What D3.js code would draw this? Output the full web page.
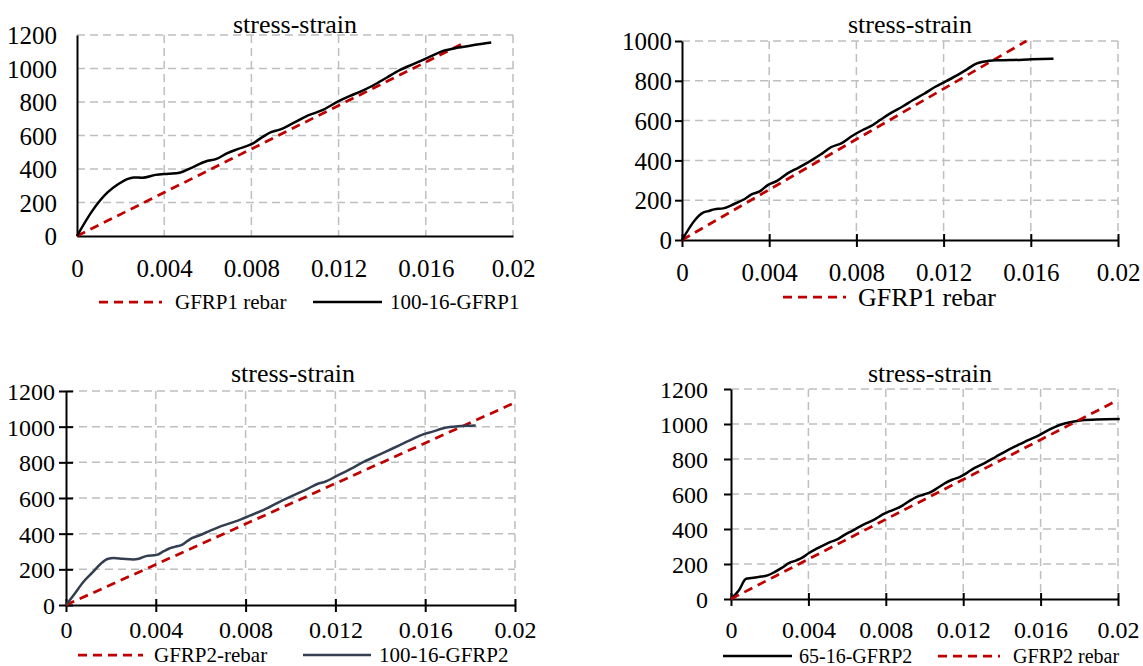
<!DOCTYPE html>
<html>
<head>
<meta charset="utf-8">
<script src="https://cdn.jsdelivr.net/npm/d3@7"></script>
<style>
  body { margin: 0; background: #fff; }
  svg text { font-family: "Liberation Serif", "Times New Roman", serif; fill: #000; }
</style>
</head>
<body>
<svg id="chart" width="1143" height="666"></svg>
<script>
// ---- data (strain, stress MPa) ----
const strainTicks = [0, 0.004, 0.008, 0.012, 0.016, 0.02];
const stressTicks1200 = [0, 200, 400, 600, 800, 1000, 1200];
const stressTicks1000 = [0, 200, 400, 600, 800, 1000];

const gfrp1Rebar = [[0, 0], [0.0089, 578], [0.0178, 1155]];
const gfrp1RebarB = [[0, 0], [0.0079, 500], [0.0158, 1000]];
const gfrp2Rebar = [[0, 0], [0.010, 568], [0.020, 1135]];
const gfrp2RebarB = [[0, 0], [0.010, 569], [0.020, 1137]];

const spec100_16_GFRP1 = [
  [0, 0], [0.0007, 150], [0.0014, 260], [0.0019, 310], [0.0023, 340], [0.0026, 350],
  [0.0030, 348], [0.0036, 365], [0.0042, 372], [0.0047, 378], [0.0053, 410], [0.0059, 445],
  [0.0064, 460], [0.0069, 495], [0.0074, 520], [0.0080, 548], [0.0085, 590], [0.0089, 620],
  [0.0093, 635], [0.0100, 680], [0.0106, 720], [0.0112, 748], [0.0120, 805], [0.0125, 835],
  [0.0130, 862], [0.0136, 900], [0.0142, 945], [0.0148, 990], [0.0155, 1030], [0.0161, 1065],
  [0.0168, 1105], [0.0175, 1125], [0.0182, 1140], [0.0190, 1155]
];

const specGFRP1 = [
  [0, 0], [0.00099, 139], [0.00123, 146], [0.00148, 154], [0.00189, 159], [0.00239, 181],
  [0.00288, 206], [0.00321, 230], [0.00354, 243], [0.00395, 277], [0.00436, 297], [0.00486, 336],
  [0.00535, 364], [0.00584, 394], [0.00634, 428], [0.00683, 466], [0.00733, 487], [0.00782, 524],
  [0.00831, 554], [0.00864, 571], [0.00914, 607], [0.00963, 641], [0.01012, 671], [0.01062, 705],
  [0.01111, 735], [0.01160, 769], [0.01210, 797], [0.01259, 826], [0.01309, 859], [0.01350, 886],
  [0.01383, 896], [0.01440, 903], [0.01506, 904], [0.01605, 908], [0.01704, 911]
];

const spec100_16_GFRP2 = [
  [0, 0], [0.00037, 60], [0.00077, 129], [0.00117, 181], [0.00156, 233], [0.00188, 259],
  [0.00212, 263], [0.00252, 259], [0.00300, 255], [0.00324, 259], [0.00356, 274], [0.00404, 281],
  [0.00436, 302], [0.00460, 317], [0.00484, 326], [0.00516, 337], [0.00540, 358], [0.00563, 376],
  [0.00595, 391], [0.00643, 417], [0.00691, 442], [0.00755, 469], [0.00819, 501], [0.00883, 535],
  [0.00947, 576], [0.01010, 613], [0.01074, 650], [0.01122, 680], [0.01154, 691], [0.01202, 721],
  [0.01266, 762], [0.01330, 805], [0.01393, 842], [0.01457, 879], [0.01521, 917], [0.01585, 954],
  [0.01633, 972], [0.01681, 991], [0.01745, 1002], [0.01825, 1006]
];

const spec65_16_GFRP2 = [
  [0, 0], [0.00041, 50], [0.00078, 116], [0.00106, 120], [0.00143, 126], [0.00189, 135],
  [0.00227, 155], [0.00264, 179], [0.00301, 206], [0.00338, 221], [0.00366, 235], [0.00403, 263],
  [0.00440, 286], [0.00477, 307], [0.00514, 326], [0.00552, 342], [0.00589, 368], [0.00626, 389],
  [0.00663, 412], [0.00700, 433], [0.00747, 458], [0.00784, 483], [0.00812, 498], [0.00839, 509],
  [0.00886, 534], [0.00923, 561], [0.00960, 584], [0.00997, 597], [0.01034, 612], [0.01071, 637],
  [0.01109, 664], [0.01146, 683], [0.01183, 698], [0.01220, 721], [0.01257, 748], [0.01313, 778],
  [0.01369, 813], [0.01424, 847], [0.01480, 878], [0.01536, 908], [0.01591, 935], [0.01647, 969],
  [0.01703, 996], [0.01759, 1011], [0.01814, 1021], [0.01889, 1026], [0.02009, 1028]
];

const RED = "#c00000", GRID = "#bfbfbf";

// ---- panel layout ----
const panels = [
  { l: 77, r: 513, t: 35, b: 236, yTicks: stressTicks1200, titleX: 295, titleY: 33,
    yTick: 0, xTick: 0, yGap: 20, xLabY: 268, fs: 25,
    series: [
      { data: gfrp1Rebar, color: RED, dash: true },
      { data: spec100_16_GFRP1, color: "#000" }
    ],
    legend: { y: 302, fs: 21, items: [
      { x0: 99, x1: 162, tx: 175, label: "GFRP1 rebar", color: RED, dash: true },
      { x0: 313, x1: 382, tx: 390, label: "100-16-GFRP1", color: "#000" }
    ] } },
  { l: 682, r: 1118, t: 41, b: 240, yTicks: stressTicks1000, titleX: 910, titleY: 33,
    yTick: 1, xTick: 2, yGap: 10, xLabY: 272, fs: 25,
    series: [
      { data: gfrp1RebarB, color: RED, dash: true },
      { data: specGFRP1, color: "#000" }
    ],
    legend: { y: 297, fs: 26, items: [
      { x0: 783, x1: 846, tx: 858, label: "GFRP1 rebar", color: RED, dash: true }
    ] } },
  { l: 66, r: 515, t: 391, b: 605, yTicks: stressTicks1200, titleX: 293, titleY: 382,
    yTick: 2, xTick: 2, yGap: 11, xLabY: 630, fs: 24,
    series: [
      { data: gfrp2Rebar, color: RED, dash: true },
      { data: spec100_16_GFRP2, color: "#333e50" }
    ],
    legend: { y: 655, fs: 21, items: [
      { x0: 78, x1: 143, tx: 154, label: "GFRP2-rebar", color: RED, dash: true },
      { x0: 303, x1: 371, tx: 379, label: "100-16-GFRP2", color: "#333e50" }
    ] } },
  { l: 731, r: 1118, t: 389, b: 599, yTicks: stressTicks1200, titleX: 930, titleY: 382,
    yTick: 1, xTick: 2, yGap: 23, xLabY: 630, fs: 24,
    series: [
      { data: spec65_16_GFRP2, color: "#000" },
      { data: gfrp2RebarB, color: RED, dash: true }
    ],
    legend: { y: 656, fs: 20, items: [
      { x0: 723, x1: 792, tx: 799, label: "65-16-GFRP2", color: "#000" },
      { x0: 938, x1: 1000, tx: 1013, label: "GFRP2 rebar", color: RED, dash: true }
    ] } }
];

const svg = d3.select("#chart");

panels.forEach(p => {
  const x = d3.scaleLinear().domain([0, 0.02]).range([p.l, p.r]);
  const yMax = p.yTicks[p.yTicks.length - 1];
  const y = d3.scaleLinear().domain([0, yMax]).range([p.b, p.t]);
  const g = svg.append("g");

  // grid
  g.selectAll(".hg").data(p.yTicks.filter(d => d > 0)).join("line")
    .attr("x1", p.l).attr("x2", p.r).attr("y1", d => y(d)).attr("y2", d => y(d))
    .attr("stroke", GRID).attr("stroke-width", 1.5).attr("stroke-dasharray", "8,5");
  g.selectAll(".vg").data(strainTicks.filter(d => d > 0)).join("line")
    .attr("x1", d => x(d)).attr("x2", d => x(d)).attr("y1", p.t).attr("y2", p.b)
    .attr("stroke", GRID).attr("stroke-width", 1.5).attr("stroke-dasharray", "8,5");

  // axes
  const fmtX = d => d === 0 ? "0" : String(+d.toFixed(3));
  const xAxis = g.append("g").attr("transform", `translate(0,${p.b})`)
    .call(d3.axisBottom(x).tickValues(strainTicks).tickFormat(fmtX).tickSize(0).tickPadding(0));
  const yAxis = g.append("g").attr("transform", `translate(${p.l},0)`)
    .call(d3.axisLeft(y).tickValues(p.yTicks).tickFormat(d3.format("d")).tickSize(0).tickPadding(p.yGap));
  [xAxis, yAxis].forEach(a => {
    a.select(".domain").attr("stroke", "#000").attr("stroke-width", 2);
    a.selectAll("text").attr("font-size", p.fs).attr("fill", "#000");
  });
  xAxis.selectAll("text").attr("y", p.xLabY - p.b).attr("dy", "0.35em");
  yAxis.selectAll("text").attr("dy", "0.35em");

  // tick marks
  xAxis.selectAll(".tick line").attr("stroke", "#000").attr("stroke-width", 2)
    .attr("y1", p.xTick === 2 ? -6 : 0).attr("y2", p.xTick ? 7 : 0);
  yAxis.selectAll(".tick line").attr("stroke", "#000").attr("stroke-width", 2)
    .attr("x1", p.yTick === 2 ? 7 : 0).attr("x2", p.yTick ? -7 : 0);

  // series
  const line = d3.line().x(d => x(d[0])).y(d => y(d[1])).curve(d3.curveMonotoneX);
  p.series.forEach(s => {
    g.append("path").datum(s.data).attr("d", line)
      .attr("fill", "none").attr("stroke", s.color)
      .attr("stroke-width", s.dash ? 2.75 : 2.5)
      .attr("stroke-dasharray", s.dash ? "9,6" : null)
      .attr("stroke-linejoin", "round");
  });

  // title
  g.append("text").attr("x", p.titleX).attr("y", p.titleY)
    .attr("text-anchor", "middle").attr("font-size", 26).text("stress-strain");

  // legend
  p.legend.items.forEach(it => {
    g.append("line").attr("x1", it.x0).attr("x2", it.x1)
      .attr("y1", p.legend.y).attr("y2", p.legend.y)
      .attr("stroke", it.color).attr("stroke-width", it.dash ? 2.75 : 2.5)
      .attr("stroke-dasharray", it.dash ? "9,6" : null);
    g.append("text").attr("x", it.tx).attr("y", p.legend.y).attr("dy", "0.35em")
      .attr("font-size", p.legend.fs).text(it.label);
  });
});
</script>
</body>
</html>
